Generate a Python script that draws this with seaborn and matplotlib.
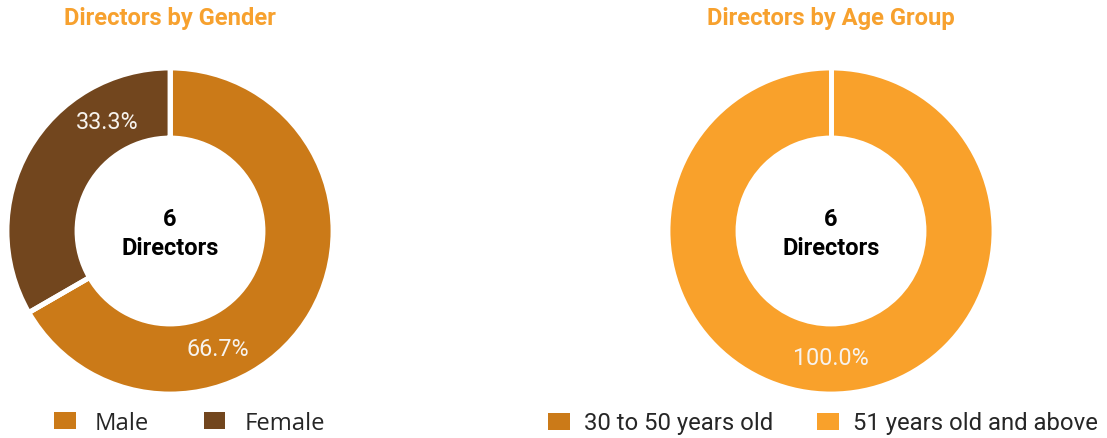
import numpy as np
import matplotlib
matplotlib.use("Agg")
import matplotlib.pyplot as plt
from matplotlib.patches import Patch
import seaborn as sns

# ---- data ----
gender_labels = ["Male", "Female"]
gender_counts = [4, 2]
age_labels = ["30 to 50 years old", "51 years old and above"]
age_counts = [0, 6]
total_directors = 6
titles = ["Directors by Gender", "Directors by Age Group"]

# ---- style ----
gender_colors = ["#CB7A18", "#72461E"]
age_colors = ["#CB7A18", "#F9A12B"]
title_color = "#F7A12E"
label_angles_gender = [-68, 120]   # where each percentage sits on the ring
label_angles_age = [-90, -90]

sns.set_theme(style="white")
plt.rcParams["font.family"] = ["Roboto", "DejaVu Sans"]

W, H = 1107, 439
fig = plt.figure(figsize=(W / 100, H / 100), dpi=100)

R_PX = 161
HOLE = 95 / 161
EDGE_LW = 3.5


def donut(cx, cy, values, colors, label_angles, title, names, legend_x, legend_font,
          textpad, colspace):
    ax = fig.add_axes([(cx - R_PX) / W, (H - cy - R_PX) / H, 2 * R_PX / W, 2 * R_PX / H])
    total = sum(values)
    outer = 1.0 + 2.0 / R_PX
    wedges, _ = ax.pie(
        values,
        colors=colors,
        startangle=90,
        counterclock=False,
        radius=outer,
        wedgeprops=dict(width=outer - HOLE + 2.0 / R_PX, edgecolor="white",
                        linewidth=EDGE_LW),
    )
    # white separators on every slice boundary (also visible when one slice is full)
    for w in wedges:
        t = np.deg2rad(w.theta1)
        ax.plot([0.5 * np.cos(t), outer * np.cos(t)], [0.5 * np.sin(t), outer * np.sin(t)],
                color="white", lw=EDGE_LW, solid_capstyle="butt", zorder=5)
    for v, ang in zip(values, label_angles):
        if v == 0:
            continue
        r = 0.785
        t = np.deg2rad(ang)
        ax.text(r * np.cos(t), r * np.sin(t), f"{100 * v / total:.1f}%",
                ha="center", va="center", color="#F7F3EE", fontsize=16.8,
                family=["Roboto", "DejaVu Sans"], zorder=6)
    ax.text(0, 0.075, f"{total_directors}", ha="center", va="center",
            fontsize=17, fontweight="bold", color="black")
    ax.text(0, -0.1, "Directors", ha="center", va="center",
            fontsize=17, fontweight="bold", color="black")
    ax.set_xlim(-1.0, 1.0)
    ax.set_ylim(-1.0, 1.0)
    ax.set_aspect("equal")
    ax.axis("off")

    fig.text(cx / W, 1 - 19 / H, title, ha="center", va="center",
             color=title_color, fontsize=17.1, fontweight="bold")

    handles = [Patch(facecolor=c, edgecolor="none") for c in colors]
    fig.legend(handles, names, loc="center left",
               bbox_to_anchor=(legend_x / W, 1 - 424 / H),
               ncol=len(names), frameon=False, borderpad=0, borderaxespad=0,
               handlelength=0.9, handleheight=0.72, handletextpad=textpad,
               columnspacing=colspace,
               prop=dict(family=legend_font, size=17.2))


donut(170, 232, gender_counts, gender_colors, label_angles_gender, titles[0],
      gender_labels, 54, ["Open Sans", "DejaVu Sans"], 0.8, 2.3)
donut(831, 232, age_counts, age_colors, label_angles_age, titles[1],
      age_labels, 548, ["Roboto", "DejaVu Sans"], 0.6, 1.85)

fig.savefig("out.png", dpi=100, facecolor="white")
